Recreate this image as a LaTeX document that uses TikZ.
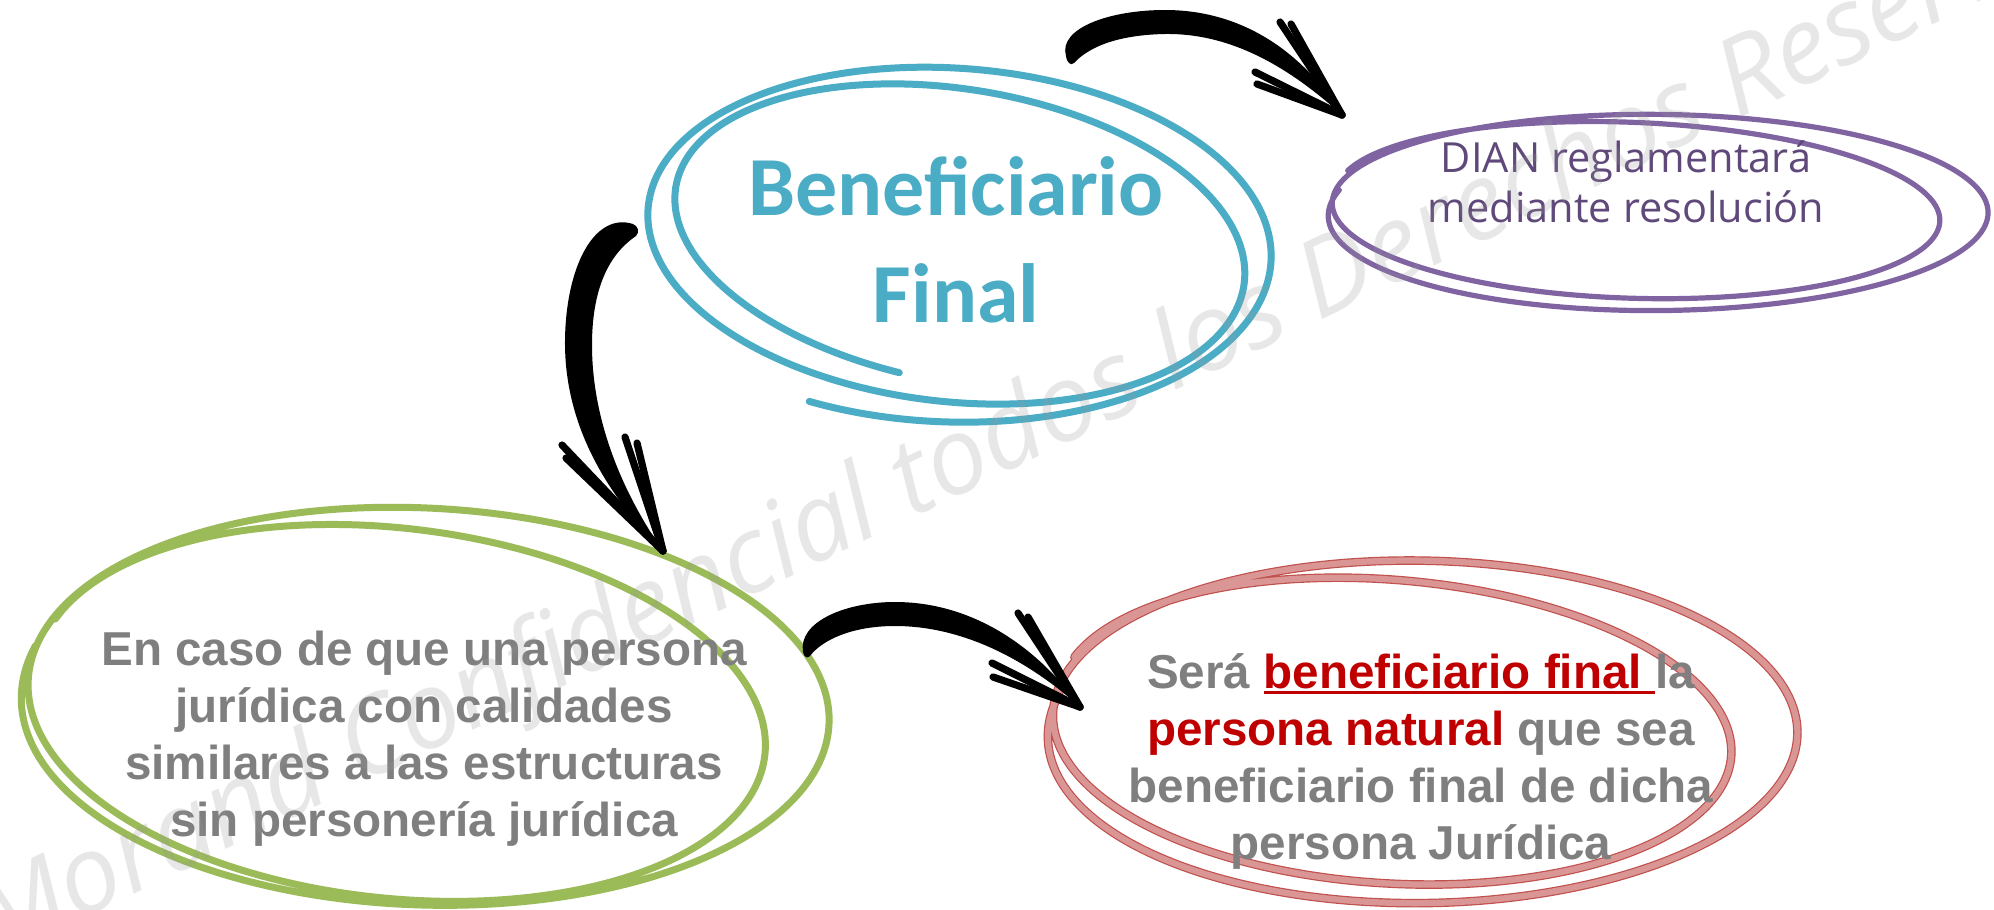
\documentclass[tikz,border=0pt]{standalone}
\usepackage{fontspec}
\setmainfont{Liberation Sans}
\newfontfamily\carl{Carlito}
\newfontfamily\osans{Open Sans}
\usetikzlibrary{calc}
\definecolor{ringblue}{HTML}{4BACC6}
\definecolor{ringpurple}{HTML}{8064A2}
\definecolor{txtpurple}{HTML}{5F497A}
\definecolor{ringgreen}{HTML}{9BBB59}
\definecolor{ringred}{HTML}{C0504D}
\definecolor{ringpink}{HTML}{D99694}
\definecolor{txtgray}{HTML}{7F7F7F}
\definecolor{txtred}{HTML}{C00000}
\definecolor{wmgray}{HTML}{969696}

\newcommand\linesblock[1]{\vtop{\halign{\hfil##\hfil\cr#1\crcr}}}
\newcommand\myul[1]{\setbox0=\hbox{#1}\rlap{\rule[-0.12em]{\wd0}{0.065em}}\box0}
% #1 cx #2 cy #3 A0 #4 A1 #5 B0 #6 B1 #7 R0 #8 R1 #9 T0 ; \rdx \rdy \rspan
\newcommand\sketchring[9]{%
  \draw[ringstyle] plot[variable=\u, domain=0:1, samples=360, smooth]
   ({#1+\rdx*\u+(#3+(#4-#3)*\u)*cos(#9+\rspan*\u)*cos(#7+(#8-#7)*\u)-(#5+(#6-#5)*\u)*sin(#9+\rspan*\u)*sin(#7+(#8-#7)*\u)},
    {#2+\rdy*\u+(#3+(#4-#3)*\u)*cos(#9+\rspan*\u)*sin(#7+(#8-#7)*\u)+(#5+(#6-#5)*\u)*sin(#9+\rspan*\u)*cos(#7+(#8-#7)*\u)});}

\tikzset{
  arrowbody/.style={fill=black},
  headstroke/.style={draw=black, line width=3.6pt, line cap=round},
  graytext/.style={anchor=base, inner sep=0pt, text=txtgray,
     font=\bfseries\fontsize{23.8}{28.5}\selectfont},
}

\begin{document}
\begin{tikzpicture}[x=0.5pt, y=-0.5pt]
\useasboundingbox (0,0) rectangle (1994,910);
\fill[white] (0,0) rectangle (1994,910);

% rings
\tikzset{ringstyle/.style={draw=ringblue, line width=3.5pt, line cap=round, line join=round}}
\def\rdx{0}\def\rdy{0}\def\rspan{-740}
\sketchring{953}{240}{326.5}{276.5}{183.5}{141.5}{2}{12}{115}

\tikzset{ringstyle/.style={draw=ringpurple, line width=2.6pt, line cap=round, line join=round}}
\def\rdx{-44}\def\rdy{-4}\def\rspan{-720}
\sketchring{1671}{211}{343}{291}{103}{83}{-1}{3}{195}

\tikzset{ringstyle/.style={draw=ringgreen, line width=3.5pt, line cap=round, line join=round}}
\def\rdx{-56}\def\rdy{14}\def\rspan{-720}
\sketchring{442}{699.5}{421}{353}{207.5}{181.5}{0}{8}{195}

\tikzset{ringstyle/.style={draw=ringred, line width=4.3pt, line cap=round, line join=round}}
\def\rdx{-60}\def\rdy{0}\def\rspan{-720}
\sketchring{1440}{727}{392.5}{322.5}{181.5}{143.5}{-2}{6}{195}
\tikzset{ringstyle/.style={draw=ringpink, line width=3.1pt, line cap=round, line join=round}}
\sketchring{1440}{727}{392.5}{322.5}{181.5}{143.5}{-2}{6}{195}

% texts
\node[anchor=base, inner sep=0pt, text=ringblue,
      font=\carl\bfseries\fontsize{42}{53.5}\selectfont] (benef) at (956,215)
      {\linesblock{Beneficiario\cr Final}};
\node[anchor=base, inner sep=0pt, text=txtpurple,
      font=\osans\fontsize{20.75}{25}\selectfont] (dian) at (1626,172)
      {\linesblock{DIAN reglamentará\cr mediante resolución}};
\node[graytext] (caso) at (424,665)
      {\linesblock{En caso de que una persona\cr jurídica con calidades\cr similares a las estructuras\cr sin personería jurídica}};
\node[graytext] (sera) at (1421,688)
      {\linesblock{Será {\color{txtred}\myul{beneficiario final\ }}la\cr {\color{txtred}persona natural} que sea\cr beneficiario final de dicha\cr persona Jurídica}};

% arrow 1: benef -> dian
\coordinate (a1s) at (1066,56);
\coordinate (a1t) at (1342,115);
\fill[arrowbody] (a1s) .. controls (1058,28) and (1110,10) .. (1165,10)
   .. controls (1245,10) and (1305,55) .. (a1t)
   .. controls (1290,68) and (1232,33) .. (1165,34)
   .. controls (1115,35) and (1088,48) .. (1074,63)
   .. controls (1071,66) and (1067,63) .. (a1s) -- cycle;
\draw[headstroke] (1280,22) -- (a1t);
\draw[headstroke] (1291,24) -- (a1t);
\draw[headstroke] (1255,72) -- (a1t);
\draw[headstroke] (1257,84) -- (a1t);

% arrow 2: benef -> caso
\coordinate (a2s) at (633,224);
\coordinate (a2t) at (663,551);
\fill[arrowbody] (a2s) .. controls (595,212) and (566,265) .. (565,340)
   .. controls (564,430) and (612,500) .. (a2t)
   .. controls (622,492) and (592,420) .. (592,345)
   .. controls (592,290) and (608,255) .. (636,236)
   .. controls (640,232) and (638,226) .. (a2s) -- cycle;
\draw[headstroke] (562,445) -- (a2t);
\draw[headstroke] (566,458) -- (a2t);
\draw[headstroke] (625,437) -- (a2t);
\draw[headstroke] (637,443) -- (a2t);

% arrow 3: caso -> sera
\coordinate (a3s) at (803,652);
\coordinate (a3t) at (1080,707);
\fill[arrowbody] (a3s) .. controls (798,622) and (845,602) .. (895,602)
   .. controls (975,602) and (1040,650) .. (a3t)
   .. controls (1030,662) and (965,626) .. (895,626)
   .. controls (852,626) and (822,640) .. (810,656)
   .. controls (807,659) and (804,657) .. (a3s) -- cycle;
\draw[headstroke] (1018,613) -- (a3t);
\draw[headstroke] (1028,617) -- (a3t);
\draw[headstroke] (992,663) -- (a3t);
\draw[headstroke] (993,677) -- (a3t);

% watermark
\node[rotate=25.8, anchor=base west, inner sep=0pt, text=wmgray, text opacity=0.22,
      font=\osans\itshape\fontsize{53.5}{60}\selectfont] (wm) at (-4,961)
      {Morand Confidencial todos los Derechos Reservados};
\end{tikzpicture}
\end{document}
